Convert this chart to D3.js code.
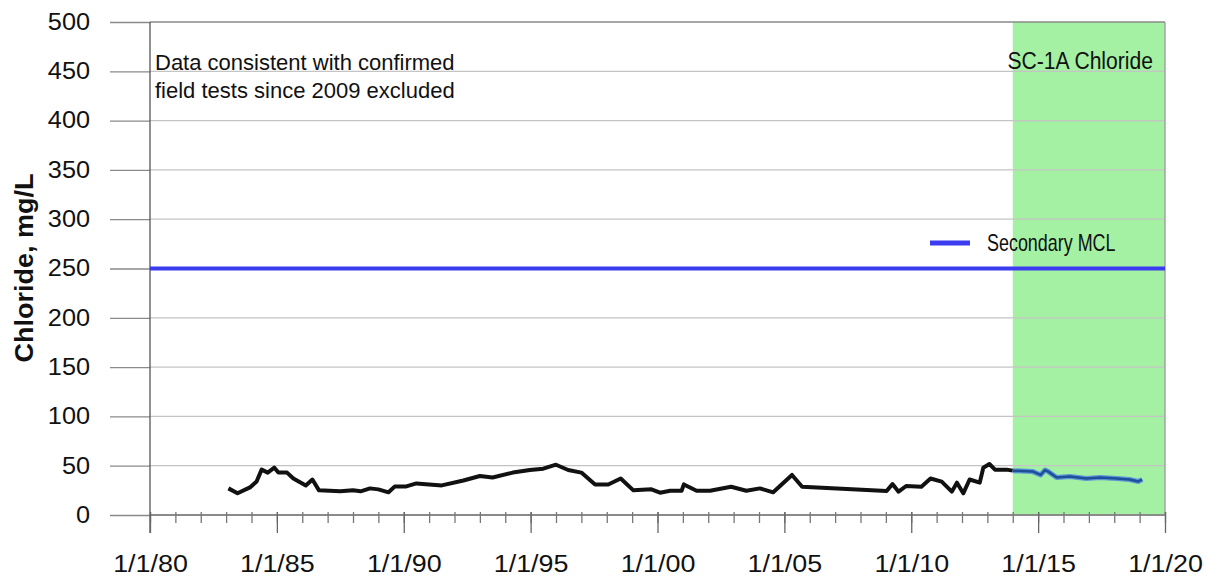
<!DOCTYPE html>
<html>
<head>
<script src="https://d3js.org/d3.v7.min.js"></script>
<style>
  body { margin: 0; background: white; }
  text { font-family: "Liberation Sans", Arial, sans-serif; }
</style>
</head>
<body>
<svg width="1220" height="586" id="MainSVG"></svg>
<script>
// chloride samples, decimal year / mg/L (older record, black line)
var clYears = [1983.09, 1983.45, 1983.94, 1984.2, 1984.4, 1984.64, 1984.9, 1985.06, 1985.4, 1985.65,
  1986.14, 1986.4, 1986.66, 1987.5, 1988.0, 1988.3, 1988.67, 1989.0, 1989.4, 1989.65,
  1990.1, 1990.5, 1991.5, 1992.35, 1993.0, 1993.5, 1994.3, 1994.97, 1995.5, 1996.0,
  1996.48, 1997.0, 1997.54, 1998.06, 1998.55, 1999.05, 1999.76, 2000.1, 2000.5, 2000.95,
  2001.04, 2001.54, 2002.07, 2002.9, 2003.5, 2004.04, 2004.56, 2005.3, 2005.7, 2009.03,
  2009.26, 2009.5, 2009.8, 2010.4, 2010.76, 2011.2, 2011.6, 2011.8, 2012.05, 2012.3,
  2012.7, 2012.84, 2013.08, 2013.3, 2013.76, 2014.0];
var clValues = [27, 22, 28, 34, 46, 43, 48, 43, 43, 37,
  30, 36, 25, 24, 25, 24, 27, 26, 23, 29,
  29, 32, 30, 35, 39.5, 38, 43, 45.6, 47, 51,
  45.6, 43, 31, 31, 37, 25, 26, 22.6, 24.6, 24.6,
  31, 24.6, 24.6, 28.7, 24.6, 27, 23, 40.6, 28.7, 24.3,
  31.4, 23.7, 29.4, 28.7, 37, 33.8, 23.7, 32.8, 22, 36,
  32.8, 48, 51.7, 46, 46, 45];

// recent record (blue line, shaded period)
var recentYears = [2014.0, 2014.8, 2015.1, 2015.27, 2015.4, 2015.73, 2016.25, 2016.9, 2017.44, 2018.1, 2018.6, 2018.95, 2019.1];
var recentValues = [45, 44, 40.6, 45.6, 44, 38, 39, 37, 38, 37, 36, 34, 36];

var mclValue = 250;
var shadeStart = 2014, shadeEnd = 2020;
var xMajorTicks = [1980, 1985, 1990, 1995, 2000, 2005, 2010, 2015, 2020];
var xMinorTicks = d3.range(1980, 2021);
var yTicks = [0, 50, 100, 150, 200, 250, 300, 350, 400, 450, 500];

var svg = d3.select("svg");
svg.append("rect").attr("width", 1220).attr("height", 586).attr("fill", "white");

var xs = d3.scaleLinear().domain([1980, 2020]).range([150, 1165]);
var ys = d3.scaleLinear().domain([0, 500]).range([515, 22]);

// green shaded period
svg.append("rect")
  .attr("x", xs(shadeStart))
  .attr("y", ys(500))
  .attr("width", xs(shadeEnd) - xs(shadeStart))
  .attr("height", ys(0) - ys(500))
  .attr("fill", "#a4f1a4");

// horizontal gridlines
svg.append("g").selectAll("line")
  .data(yTicks)
  .enter().append("line")
  .attr("x1", xs(1980)).attr("x2", xs(2020))
  .attr("y1", function(d) { return ys(d); })
  .attr("y2", function(d) { return ys(d); })
  .attr("stroke", function(d) { return (d == 0 || d == 500) ? "#8a8a8a" : "#c4c4c4"; })
  .attr("stroke-width", function(d) { return d == 0 ? 2 : 1.3; });

// right border
svg.append("line")
  .attr("x1", xs(2020)).attr("x2", xs(2020))
  .attr("y1", ys(500)).attr("y2", ys(0))
  .attr("stroke", "#9a9a9a").attr("stroke-width", 1.3);

// y axis
var yAxis = svg.append("g")
  .attr("transform", "translate(150,0)")
  .call(d3.axisLeft(ys).tickValues(yTicks).tickSize(40).tickPadding(20));
yAxis.select(".domain").remove();
yAxis.selectAll(".tick line").attr("stroke", "#8a8a8a").attr("stroke-width", 1.3);
yAxis.selectAll(".tick text")
  .attr("font-size", "23px")
  .attr("font-family", "Liberation Sans, Arial, sans-serif")
  .attr("fill", "#111")
  .attr("x", -60 / 1.1)
  .attr("transform", "scale(1.1,1)");

svg.append("line")
  .attr("x1", 150).attr("x2", 150)
  .attr("y1", ys(500)).attr("y2", 533)
  .attr("stroke", "#555").attr("stroke-width", 1.3);

// x axis minor ticks
var xMinor = svg.append("g")
  .attr("transform", "translate(0,512)")
  .call(d3.axisBottom(xs).tickValues(xMinorTicks).tickSize(11).tickFormat(""));
xMinor.select(".domain").remove();
xMinor.selectAll(".tick line").attr("stroke", "#777").attr("stroke-width", 1.3);

// x axis major ticks and labels
var xAxis = svg.append("g")
  .attr("transform", "translate(0,512)")
  .call(d3.axisBottom(xs).tickValues(xMajorTicks).tickSize(21).tickPadding(22)
    .tickFormat(function(d) { return "1/1/" + d3.format("02d")(d % 100); }));
xAxis.select(".domain").remove();
xAxis.selectAll(".tick line").attr("stroke", "#666").attr("stroke-width", 1.3);
xAxis.selectAll(".tick text")
  .attr("font-size", "24px")
  .attr("font-family", "Liberation Sans, Arial, sans-serif")
  .attr("fill", "#111")
  .attr("transform", "scale(1.12,1)");

// y axis title
svg.append("text")
  .attr("transform", "translate(33,268) rotate(-90) scale(1.08,1)")
  .attr("text-anchor", "middle")
  .attr("font-size", "25px")
  .attr("font-weight", "bold")
  .attr("fill", "#111")
  .text("Chloride, mg/L");

// secondary MCL
svg.append("line")
  .attr("x1", xs(1980)).attr("x2", xs(2020))
  .attr("y1", ys(mclValue)).attr("y2", ys(mclValue))
  .attr("stroke", "#3b3bef").attr("stroke-width", 4);

// data lines
var line = d3.line()
  .x(function(d) { return xs(d[0]); })
  .y(function(d) { return ys(d[1]); });

svg.append("path")
  .datum(d3.zip(clYears, clValues))
  .attr("d", line)
  .attr("fill", "none")
  .attr("stroke", "#111")
  .attr("stroke-width", 4)
  .attr("stroke-linejoin", "round");

svg.append("path")
  .datum(d3.zip(recentYears, recentValues))
  .attr("d", line)
  .attr("fill", "none")
  .attr("stroke", "#5b95d6")
  .attr("stroke-width", 5)
  .attr("stroke-linejoin", "round");
svg.append("path")
  .datum(d3.zip(recentYears, recentValues))
  .attr("d", line)
  .attr("fill", "none")
  .attr("stroke", "#1f4f9a")
  .attr("stroke-width", 2.5)
  .attr("stroke-linejoin", "round");

// annotations
svg.append("text")
  .attr("x", 155).attr("y", 70)
  .attr("font-size", "22px").attr("fill", "#111")
  .text("Data consistent with confirmed");
svg.append("text")
  .attr("x", 155).attr("y", 98)
  .attr("font-size", "22px").attr("fill", "#111")
  .text("field tests since 2009 excluded");

svg.append("text")
  .attr("transform", "translate(1153,69) scale(0.88,1)")
  .attr("text-anchor", "end")
  .attr("font-size", "24px").attr("fill", "#111")
  .text("SC-1A Chloride");

// legend
svg.append("line")
  .attr("x1", 930).attr("x2", 970)
  .attr("y1", 243).attr("y2", 243)
  .attr("stroke", "#3b3bef").attr("stroke-width", 5);
svg.append("text")
  .attr("transform", "translate(987,251) scale(0.78,1)")
  .attr("font-size", "23px").attr("fill", "#111")
  .text("Secondary MCL");
</script>
</body>
</html>
